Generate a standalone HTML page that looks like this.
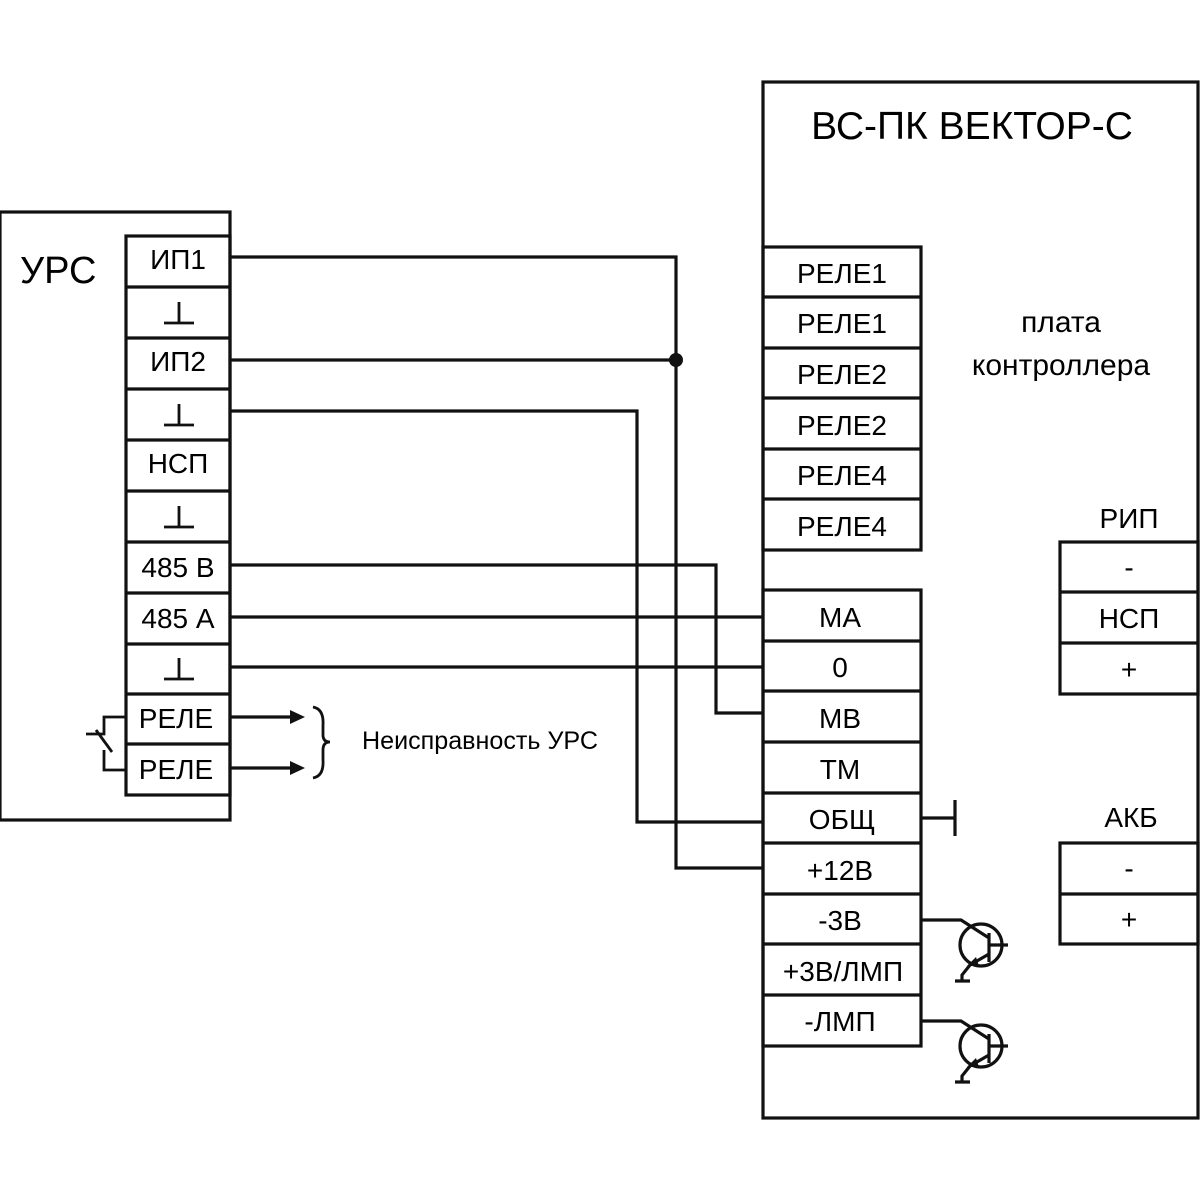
<!DOCTYPE html>
<html><head><meta charset="utf-8"><style>
body{margin:0;background:#fff}
svg{display:block}
text{font-family:"Liberation Sans",sans-serif;fill:#000}
</style></head><body>
<svg width="1200" height="1200" viewBox="0 0 1200 1200" xmlns="http://www.w3.org/2000/svg">
<g stroke="#111" stroke-width="3.2" fill="none">
<rect x="0" y="212" width="230" height="608"/>
<rect x="126" y="236" width="104" height="559"/>
<path d="M126 287H230M126 338H230M126 389H230M126 440H230M126 491H230M126 542H230M126 593H230M126 644H230M126 694H230M126 744H230"/>
<path d="M164 323H194M179 302V323M164 425H194M179 404V425M164 527H194M179 506V527M164 679H194M179 658V679" stroke-width="2.8"/>
<rect x="763" y="82" width="435" height="1036"/>
<rect x="763" y="247" width="158" height="303"/>
<path d="M763 297H921M763 348H921M763 398H921M763 449H921M763 499H921"/>
<rect x="763" y="590" width="158" height="456"/>
<path d="M763 641H921M763 691H921M763 742H921M763 793H921M763 843H921M763 894H921M763 944H921M763 995H921"/>
<rect x="1060" y="542" width="138" height="152"/>
<path d="M1060 592H1198M1060 643H1198"/>
<rect x="1060" y="843" width="138" height="101"/>
<path d="M1060 894H1198"/>
<path d="M230 257H676V868H763"/>
<path d="M230 360H676"/>
<path d="M230 411H637V822H763"/>
<path d="M230 565H716V713H763"/>
<path d="M230 617H763"/>
<path d="M230 667H763"/>
<path d="M921 818H955M955 800V836"/>
<path d="M126 717H104V734H86M96 730L112 752M104 750V770H126" stroke-width="2.8"/>
<path d="M230 717H292M230 768H292"/>
<path d="M313 707Q324 709 323 725V735Q323 742 330 742Q323 742 323 750V760Q324 776 313 778" stroke-width="2.8"/>
<circle cx="981" cy="945" r="21"/>
<path d="M921 920H961L989 938M989 933V962M989 945H1008M989 954L970 965M970 965L962 975V981M955 981H970"/>
<circle cx="981" cy="1046" r="21"/>
<path d="M921 1021H961L989 1039M989 1034V1063M989 1046H1008M989 1055L970 1066M970 1066L962 1076V1082M955 1082H970"/>
</g>
<circle cx="676" cy="360" r="7" fill="#111"/>
<path d="M305 717L290 710V724Z M305 768L290 761V775Z" fill="#111"/>
<path d="M967 966L976 957L979 966Z M967 1067L976 1058L979 1067Z" fill="#111"/>
<g font-size="28" text-anchor="middle">
<text x="178" y="269">ИП1</text>
<text x="178" y="371">ИП2</text>
<text x="178" y="473">НСП</text>
<text x="178" y="577">485  В</text>
<text x="178" y="628">485  А</text>
<text x="176" y="728">РЕЛЕ</text>
<text x="176" y="779">РЕЛЕ</text>
<text x="842" y="283">РЕЛЕ1</text>
<text x="842" y="333">РЕЛЕ1</text>
<text x="842" y="384">РЕЛЕ2</text>
<text x="842" y="435">РЕЛЕ2</text>
<text x="842" y="485">РЕЛЕ4</text>
<text x="842" y="536">РЕЛЕ4</text>
<text x="840" y="627">МА</text>
<text x="840" y="677">0</text>
<text x="840" y="728">МВ</text>
<text x="840" y="779">ТМ</text>
<text x="842" y="829">ОБЩ</text>
<text x="840" y="880">+12В</text>
<text x="840" y="930">-3В</text>
<text x="843" y="981">+3В/ЛМП</text>
<text x="840" y="1031">-ЛМП</text>
<text x="1129" y="577">-</text>
<text x="1129" y="628">НСП</text>
<text x="1129" y="679">+</text>
<text x="1129" y="878">-</text>
<text x="1129" y="929">+</text>
<text x="1129" y="528">РИП</text>
<text x="1131" y="827">АКБ</text>
<text x="1061" y="332" font-size="30">плата</text>
<text x="1061" y="375" font-size="30">контроллера</text>
</g>
<text x="972" y="139" font-size="39" text-anchor="middle">ВС-ПК ВЕКТОР-С</text>
<text x="20" y="283" font-size="38">УРС</text>
<text x="362" y="749" font-size="25" textLength="236" lengthAdjust="spacingAndGlyphs">Неисправность УРС</text>
</svg>
</body></html>
